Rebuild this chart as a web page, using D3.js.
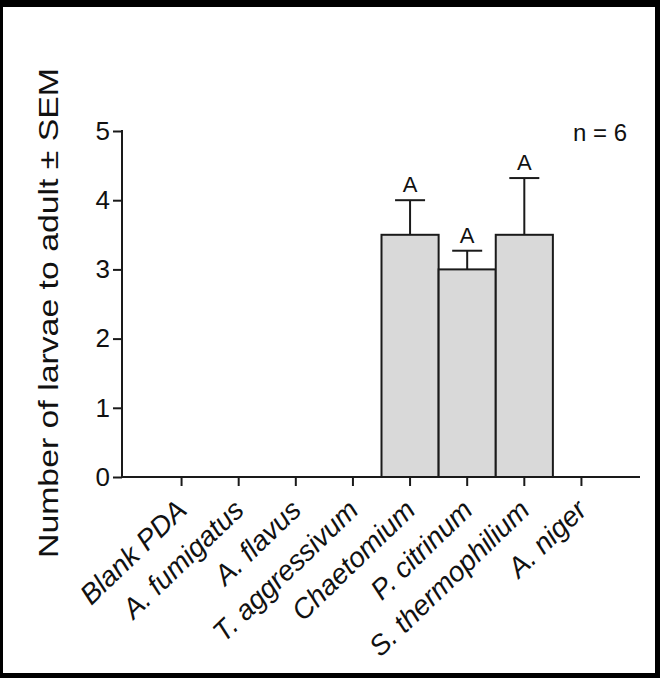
<!DOCTYPE html>
<html>
<head>
<meta charset="utf-8">
<script src="https://cdn.jsdelivr.net/npm/d3@7"></script>
<style>
  html, body { margin: 0; padding: 0; background: #000; }
  svg { display: block; }
  text { font-family: "Liberation Sans", Arial, sans-serif; fill: #111; }
</style>
</head>
<body>
<svg id="chart" width="660" height="678"></svg>
<script>
const categories = ["Blank PDA", "A. fumigatus", "A. flavus", "T. aggressivum",
                    "Chaetomium", "P. citrinum", "S. thermophilium", "A. niger"];
const means = [0, 0, 0, 0, 3.5, 3.0, 3.5, 0];
const sems = [0, 0, 0, 0, 0.5, 0.27, 0.82, 0];
const letters = ["", "", "", "", "A", "A", "A", ""];
const yTicks = [0, 1, 2, 3, 4, 5];
const yTitle = "Number of larvae to adult \u00B1 SEM";
const note = "n = 6";

const data = categories.map((c, i) => ({ cat: c, mean: means[i], sem: sems[i], letter: letters[i] }));

const svg = d3.select("#chart");

// frame
svg.append("rect").attr("x", 0).attr("y", 0).attr("width", 660).attr("height", 678).attr("fill", "#000");
svg.append("rect").attr("x", 3).attr("y", 7).attr("width", 652).attr("height", 666).attr("fill", "#fff");

const axisX0 = 122, axisX1 = 640, axisY = 477;

const y = d3.scaleLinear().domain([0, 5]).range([477, 131]);
const x = d3.scaleBand().domain(categories).range([153, 610]).paddingInner(0).paddingOuter(0);

const ink = "#1a1a1a";

// bars
const withBars = data.filter(d => d.mean > 0);
svg.append("g").selectAll("rect").data(withBars).join("rect")
  .attr("x", d => x(d.cat))
  .attr("y", d => y(d.mean))
  .attr("width", x.bandwidth())
  .attr("height", d => y(0) - y(d.mean))
  .attr("fill", "#d9d9d9")
  .attr("stroke", ink)
  .attr("stroke-width", 2);

// error bars
const eb = svg.append("g").attr("stroke", ink).attr("stroke-width", 2);
withBars.forEach(d => {
  const cx = x(d.cat) + x.bandwidth() / 2;
  eb.append("line").attr("x1", cx).attr("x2", cx).attr("y1", y(d.mean)).attr("y2", y(d.mean + d.sem));
  eb.append("line").attr("x1", cx - 15).attr("x2", cx + 15).attr("y1", y(d.mean + d.sem)).attr("y2", y(d.mean + d.sem));
});

// letters
svg.append("g").selectAll("text").data(withBars).join("text")
  .attr("x", d => x(d.cat) + x.bandwidth() / 2)
  .attr("y", d => y(d.mean + d.sem) - 8)
  .attr("text-anchor", "middle")
  .attr("font-size", 22)
  .text(d => d.letter);

// y axis
const yAxis = svg.append("g").attr("transform", `translate(${axisX0},0)`)
  .call(d3.axisLeft(y).tickValues(yTicks).tickFormat(d3.format("d")).tickSize(9).tickPadding(3));
yAxis.select(".domain").remove();
yAxis.selectAll(".tick line").attr("stroke", ink).attr("stroke-width", 2);
yAxis.selectAll(".tick text").attr("font-size", 26).attr("fill", "#111")
  .attr("font-family", "Liberation Sans, Arial, sans-serif");
svg.append("line").attr("x1", axisX0).attr("x2", axisX0).attr("y1", y(5) - 1).attr("y2", axisY + 1)
  .attr("stroke", ink).attr("stroke-width", 2);

// x axis
const xAxis = svg.append("g").attr("transform", `translate(0,${axisY})`)
  .call(d3.axisBottom(x).tickSize(9).tickFormat(""));
xAxis.select(".domain").remove();
xAxis.selectAll(".tick line").attr("stroke", ink).attr("stroke-width", 2);
svg.append("line").attr("x1", axisX0 - 1).attr("x2", axisX1).attr("y1", axisY).attr("y2", axisY)
  .attr("stroke", ink).attr("stroke-width", 2);

// x labels
svg.append("g").selectAll("text").data(categories).join("text")
  .attr("transform", d => `translate(${x(d) + x.bandwidth() / 2 + 7},${axisY + 35}) rotate(-44)`)
  .attr("text-anchor", "end")
  .attr("font-size", 28)
  .attr("font-style", "italic")
  .text(d => d);

// y title
svg.append("text")
  .attr("transform", "translate(58,313) rotate(-90)")
  .attr("text-anchor", "middle")
  .attr("font-size", 28)
  .attr("textLength", 490)
  .attr("lengthAdjust", "spacingAndGlyphs")
  .text(yTitle);

// note
svg.append("text").attr("x", 627).attr("y", 141).attr("text-anchor", "end")
  .attr("font-size", 24).text(note);
</script>
</body>
</html>
